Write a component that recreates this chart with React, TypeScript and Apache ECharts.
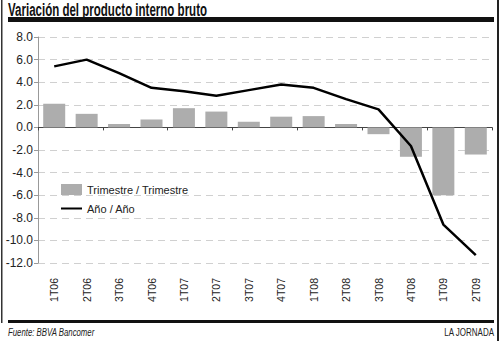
import React, { useEffect, useRef } from "react";
import * as echarts from "echarts";

const categories = ["1T06", "2T06", "3T06", "4T06", "1T07", "2T07", "3T07", "4T07", "1T08", "2T08", "3T08", "4T08", "1T09", "2T09"];
const trimestre = [2.1, 1.2, 0.3, 0.7, 1.7, 1.4, 0.5, 0.95, 1.0, 0.3, -0.6, -2.6, -6.0, -2.4];
const anual = [5.4, 6.0, 4.8, 3.5, 3.2, 2.8, 3.3, 3.8, 3.5, 2.5, 1.6, -1.65, -8.6, -11.3];
const title = "Variación del producto interno bruto";
const source = "Fuente: BBVA Bancomer";
const credit = "LA JORNADA";

const SANS = "'Liberation Sans', Arial, sans-serif";

export default function App() {
  const ref = useRef<HTMLDivElement>(null);
  useEffect(() => {
    document.body.style.margin = "0";
    const chart = echarts.init(ref.current!, null, { renderer: "svg" });
    chart.setOption({
      animation: false,
      backgroundColor: "#ffffff",
      textStyle: { fontFamily: SANS },
      grid: { left: 38, right: 8, top: 37, bottom: 78 },
      legend: {
        orient: "vertical",
        left: 55,
        top: 179,
        itemWidth: 21,
        itemHeight: 11,
        itemGap: 8,
        textStyle: { fontFamily: SANS, fontSize: 11, color: "#222" },
        data: [
          { name: "Trimestre / Trimestre", icon: "rect" },
          {
            name: "Año / Año",
            itemStyle: { color: "rgba(0,0,0,0)", borderWidth: 0, borderColor: "rgba(0,0,0,0)", opacity: 0 },
          },
        ],
      },
      xAxis: [
        {
          type: "category",
          data: categories,
          position: "bottom",
          axisLine: { onZero: true, lineStyle: { color: "#444", width: 1 } },
          axisTick: { show: true, length: 3, lineStyle: { color: "#444" } },
          axisLabel: { show: false },
          splitLine: { show: false },
        },
        {
          type: "category",
          data: categories,
          position: "bottom",
          axisLine: { show: false, onZero: false },
          axisTick: { show: false },
          axisLabel: { rotate: 90, margin: 15, fontSize: 10.5, color: "#222", fontFamily: SANS },
        },
      ],
      yAxis: {
        type: "value",
        min: -12,
        max: 8,
        interval: 2,
        axisLine: { show: true, lineStyle: { color: "#999" } },
        axisTick: { show: true, length: 4, lineStyle: { color: "#999" } },
        axisLabel: {
          formatter: (v: number) => v.toFixed(1),
          fontSize: 12,
          color: "#222",
          margin: 5,
          fontFamily: SANS,
        },
        splitLine: { show: true, lineStyle: { color: "#d0d0d0", type: [7, 5], width: 1 } },
      },
      series: [
        {
          name: "Trimestre / Trimestre",
          type: "bar",
          data: trimestre,
          barWidth: 22,
          itemStyle: { color: "#adadad" },
          xAxisIndex: 0,
        },
        {
          name: "Año / Año",
          type: "line",
          data: anual,
          symbol: "none",
          lineStyle: { color: "#000", width: 2.5 },
          itemStyle: { color: "#000" },
          xAxisIndex: 0,
        },
      ],
      graphic: [
        {
          type: "text",
          x: 8,
          y: 0,
          scaleX: 0.64,
          style: { text: title, font: `bold 18px ${SANS}`, fill: "#111", textVerticalAlign: "top" },
        },
        { type: "rect", shape: { x: 8, y: 17, width: 486, height: 5 }, style: { fill: "#111" } },
        { type: "rect", shape: { x: 8, y: 320, width: 486, height: 3 }, style: { fill: "#111" } },
        { type: "rect", shape: { x: 1, y: 0, width: 1.5, height: 323 }, style: { fill: "#333" } },
        { type: "rect", shape: { x: 497, y: 0, width: 2, height: 341 }, style: { fill: "#222" } },
        {
          type: "text",
          x: 8,
          y: 328,
          scaleX: 0.78,
          style: { text: source, font: `italic 10px ${SANS}`, fill: "#222", textVerticalAlign: "top" },
        },
        {
          type: "text",
          x: 494,
          y: 328,
          scaleX: 0.8,
          style: { text: credit, font: `10px ${SANS}`, fill: "#222", textAlign: "right", textVerticalAlign: "top" },
        },
      ],
    });
    return () => chart.dispose();
  }, []);
  return <div ref={ref} style={{ width: 500, height: 341 }} />;
}
